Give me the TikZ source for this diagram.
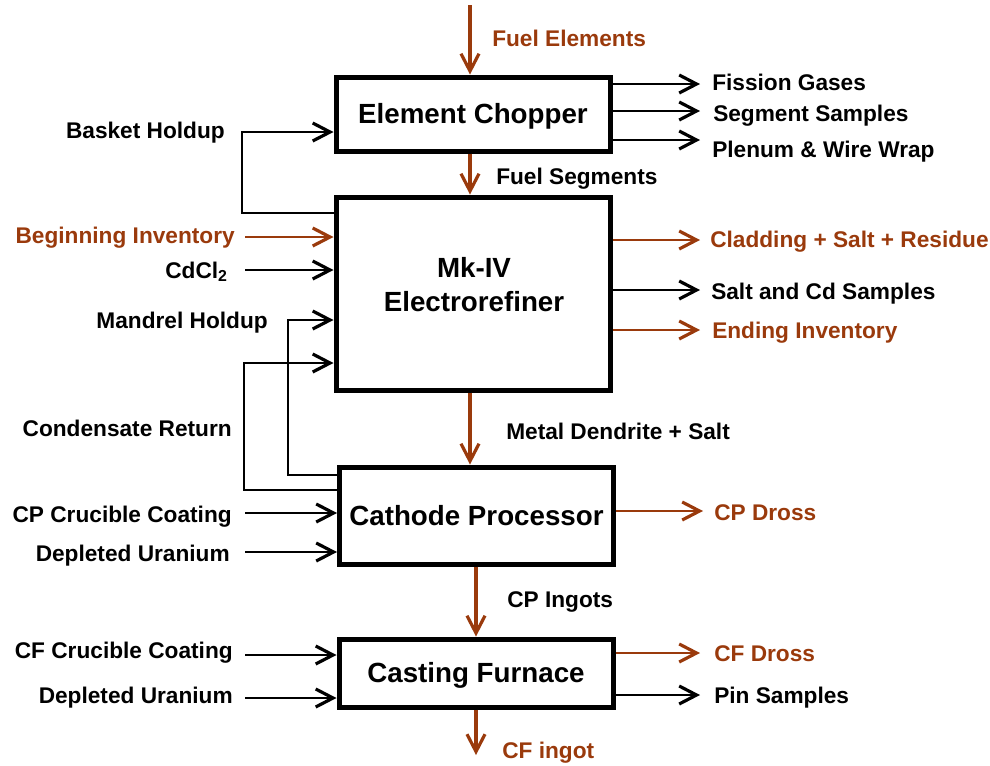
\documentclass[tikz,border=0pt]{standalone}
\usepackage{fontspec}
\setmainfont{Liberation Sans}
\usetikzlibrary{positioning,arrows.meta,calc}
\definecolor{cafeflujo}{HTML}{9A3A0C}
\tikzset{
  bloque/.style={rectangle, draw=black, line width=3.75pt, fill=white, align=center,
    inner sep=0pt, minimum width=205.5pt, font=\fontsize{20.8}{25.5}\selectfont\bfseries,
    text height=14.9pt, text depth=0pt},
  titulo/.style={align=center, inner sep=0pt, font=\fontsize{20.8}{25.5}\selectfont\bfseries},
  etiq/.style={inner sep=0pt, font=\fontsize{17}{20}\selectfont\bfseries,
    text height=12.2pt, text depth=0pt},
  etiqcafe/.style={etiq, text=cafeflujo},
  flecha/.style={-{Straight Barb[length=13pt, width=13.5pt, line width=2.4pt]}, line width=1.7pt},
  flechacafe/.style={flecha, draw=cafeflujo, line width=2.6pt},
}
\begin{document}
\begin{tikzpicture}[x=0.75pt, y=-0.75pt]
    \useasboundingbox (0,0) rectangle (990,765);
    % Bloques del proceso
    \node[bloque, minimum height=55.5pt] (chop) at (473,114) {Element Chopper};
    \node[bloque, minimum height=144.75pt] (er) at (473,293.5) {};
    \node[titulo] (ertxt) at (474,285) {Mk-IV\\Electrorefiner};
    \node[bloque, minimum height=72.75pt] (cp) at (476.5,515.5) {Cathode Processor};
    \node[bloque, minimum height=51pt] (cf) at (476,673) {Casting Furnace};

    % Etiquetas de entrada (izquierda)
    \node[etiq, anchor=east] (bh) at (225,130) {Basket Holdup};
    \node[etiqcafe, anchor=east] (bi) at (235,235) {Beginning Inventory};
    \node[etiq, anchor=east] (cdcl) at (228,270) {CdCl\textsubscript{2}};
    \node[etiq, anchor=east] (mh) at (268,320) {Mandrel Holdup};
    \node[etiq, anchor=east] (cr) at (232,428) {Condensate Return};
    \node[etiq, anchor=east] (cpcc) at (232,514) {CP Crucible Coating};
    \node[etiq, anchor=east] (cpdu) at (230,553) {Depleted Uranium};
    \node[etiq, anchor=east] (cfcc) at (233,650) {CF Crucible Coating};
    \node[etiq, anchor=east] (cfdu) at (233,695) {Depleted Uranium};

    % Etiquetas de salida (derecha)
    \node[etiq, anchor=west] (fg) at (712,82) {Fission Gases};
    \node[etiq, anchor=west] (ss) at (713,113) {Segment Samples};
    \node[etiq, anchor=west] (pw) at (712,149) {Plenum \& Wire Wrap};
    \node[etiqcafe, anchor=west] (csr) at (710,239) {Cladding + Salt + Residue};
    \node[etiq, anchor=west] (scd) at (711,291) {Salt and Cd Samples};
    \node[etiqcafe, anchor=west] (ei) at (712,330) {Ending Inventory};
    \node[etiqcafe, anchor=west] (cpd) at (714,512) {CP Dross};
    \node[etiqcafe, anchor=west] (cfd) at (714,653) {CF Dross};
    \node[etiq, anchor=west] (pin) at (714,695) {Pin Samples};

    % Etiquetas de flujo principal
    \node[etiqcafe, anchor=west] (fe) at (492,38) {Fuel Elements};
    \node[etiq, anchor=west] (fs) at (496,176) {Fuel Segments};
    \node[etiq, anchor=west] (mds) at (506,431) {Metal Dendrite + Salt};
    \node[etiq, anchor=west] (cpi) at (507,599) {CP Ingots};
    \node[etiqcafe, anchor=west] (cfi) at (502,750) {CF ingot};

    % Extremos libres
    \coordinate (fe0) at (470,5);
    \coordinate (cfo) at (476,755);
    \coordinate (o1) at (700,84);
    \coordinate (o2) at (700,111);
    \coordinate (o3) at (700,140);
    \coordinate (o4) at (700,240);
    \coordinate (o5) at (700,290);
    \coordinate (o6) at (700,330);
    \coordinate (o7) at (703,511);
    \coordinate (o8) at (700,653);
    \coordinate (o9) at (700,695);
    \coordinate (i1) at (245,237);
    \coordinate (i2) at (245,270);
    \coordinate (i3) at (245,513);
    \coordinate (i4) at (245,552);
    \coordinate (i5) at (245,655);
    \coordinate (i6) at (245,698);
    % Recirculaciones
    \coordinate (bh1) at (242,213);
    \coordinate (bh2) at (242,132);
    \coordinate (mh1) at (288,475);
    \coordinate (mh2) at (288,320);
    \coordinate (cr1) at (244,490);
    \coordinate (cr2) at (244,363);

    % Flujo principal
    \draw[flechacafe] (fe0) -- (fe0 |- chop.north);
    \draw[flechacafe] (chop.south -| fe0) -- (er.north -| fe0);
    \draw[flechacafe] (er.south -| fe0) -- (cp.north -| fe0);
    \draw[flechacafe] (cp.south -| cfo) -- (cf.north -| cfo);
    \draw[flechacafe] (cf.south -| cfo) -- (cfo);

    % Salidas
    \draw[flecha] (chop.east |- o1) -- (o1);
    \draw[flecha] (chop.east |- o2) -- (o2);
    \draw[flecha] (chop.east |- o3) -- (o3);
    \draw[flechacafe, line width=2.2pt] (er.east |- o4) -- (o4);
    \draw[flecha] (er.east |- o5) -- (o5);
    \draw[flechacafe, line width=2.2pt] (er.east |- o6) -- (o6);
    \draw[flechacafe, line width=1.6pt] (cp.east |- o7) -- (o7);
    \draw[flechacafe, line width=1.6pt] (cf.east |- o8) -- (o8);
    \draw[flecha] (cf.east |- o9) -- (o9);

    % Entradas
    \draw[flechacafe, line width=2.2pt] (i1) -- (i1 -| er.west);
    \draw[flecha] (i2) -- (i2 -| er.west);
    \draw[flecha] (i3) -- (i3 -| cp.west);
    \draw[flecha] (i4) -- (i4 -| cp.west);
    \draw[flecha] (i5) -- (i5 -| cf.west);
    \draw[flecha] (i6) -- (i6 -| cf.west);

    % Recirculaciones
    \draw[flecha] (er.west |- bh1) -- (bh1) -- (bh2) -- (bh2 -| chop.west);
    \draw[flecha] (cp.west |- mh1) -- (mh1) -- (mh2) -- (mh2 -| er.west);
    \draw[flecha] (cp.west |- cr1) -- (cr1) -- (cr2) -- (cr2 -| er.west);
\end{tikzpicture}
\end{document}
